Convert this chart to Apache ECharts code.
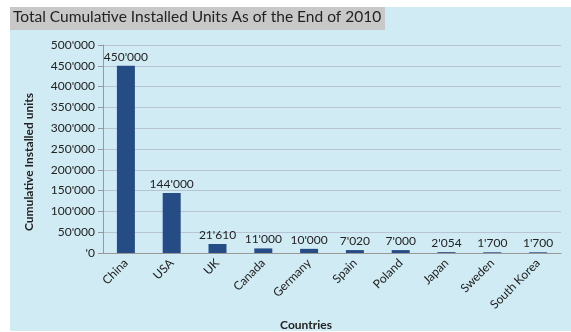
<!DOCTYPE html>
<html>
<head>
<meta charset="utf-8">
<script src="https://cdn.jsdelivr.net/npm/echarts@6/dist/echarts.min.js"></script>
<style>
  html, body { margin: 0; padding: 0; background: #fff; }
  #chart { width: 571px; height: 332px; }
</style>
</head>
<body>
<div id="chart"></div>
<script>
// chart data
var countries = ['China', 'USA', 'UK', 'Canada', 'Germany', 'Spain', 'Poland', 'Japan', 'Sweden', 'South Korea'];
var units = [450000, 144000, 21610, 11000, 10000, 7020, 7000, 2054, 1700, 1700];

// swiss style thousands: 450'000, '0
function fmt(v) {
  if (v === 0) return "'0";
  return String(v).replace(/\B(?=(\d{3})+(?!\d))/g, "'");
}

var chart = echarts.init(document.getElementById('chart'));
var font = 'Lato';

chart.setOption({
  animation: false,
  textStyle: { fontFamily: font },
  graphic: [
    {
      type: 'rect',
      shape: { x: 10, y: 7, width: 561, height: 324 },
      style: { fill: '#d0ebf4' },
      z: -10
    },
    {
      type: 'rect',
      shape: { x: 10, y: 7, width: 375, height: 23 },
      style: { fill: '#c8c8c8' },
      z: -9
    }
  ],
  title: {
    text: 'Total Cumulative Installed Units As of the End of 2010',
    left: 10,
    top: 9,
    padding: [0, 3],
    textStyle: { fontSize: 15.5, fontWeight: 'normal', color: '#222', fontFamily: font }
  },
  grid: { left: 103, right: 10, top: 45, bottom: 79, containLabel: false, outerBoundsMode: 'none' },
  xAxis: {
    type: 'category',
    data: countries,
    name: 'Countries',
    nameLocation: 'middle',
    nameGap: 66,
    nameTextStyle: { fontWeight: 'bold', fontSize: 12, color: '#222', padding: [0, 52, 0, 0] },
    axisLine: { lineStyle: { color: '#999' } },
    axisTick: { show: false },
    axisLabel: { rotate: 45, fontSize: 12, color: '#222', margin: 8, interval: 0 }
  },
  yAxis: {
    type: 'value',
    min: 0,
    max: 500000,
    interval: 50000,
    name: 'Cumulative Installed units',
    nameLocation: 'middle',
    nameGap: 68,
    nameTextStyle: { fontWeight: 'bold', fontSize: 12, color: '#222', padding: [0, 26, 0, 0] },
    axisLine: { show: true, lineStyle: { color: '#999' } },
    axisTick: { show: true, length: 5, lineStyle: { color: '#999' } },
    axisLabel: { fontSize: 12, color: '#222', margin: 8, formatter: fmt },
    splitLine: { lineStyle: { color: '#b9c4d2' } }
  },
  series: [{
    type: 'bar',
    data: units,
    barWidth: 18,
    itemStyle: { color: '#264c86' },
    label: {
      show: true,
      position: 'top',
      fontSize: 12,
      color: '#222',
      distance: 3,
      formatter: function (p) { return fmt(p.value); }
    }
  }]
});
</script>
</body>
</html>
